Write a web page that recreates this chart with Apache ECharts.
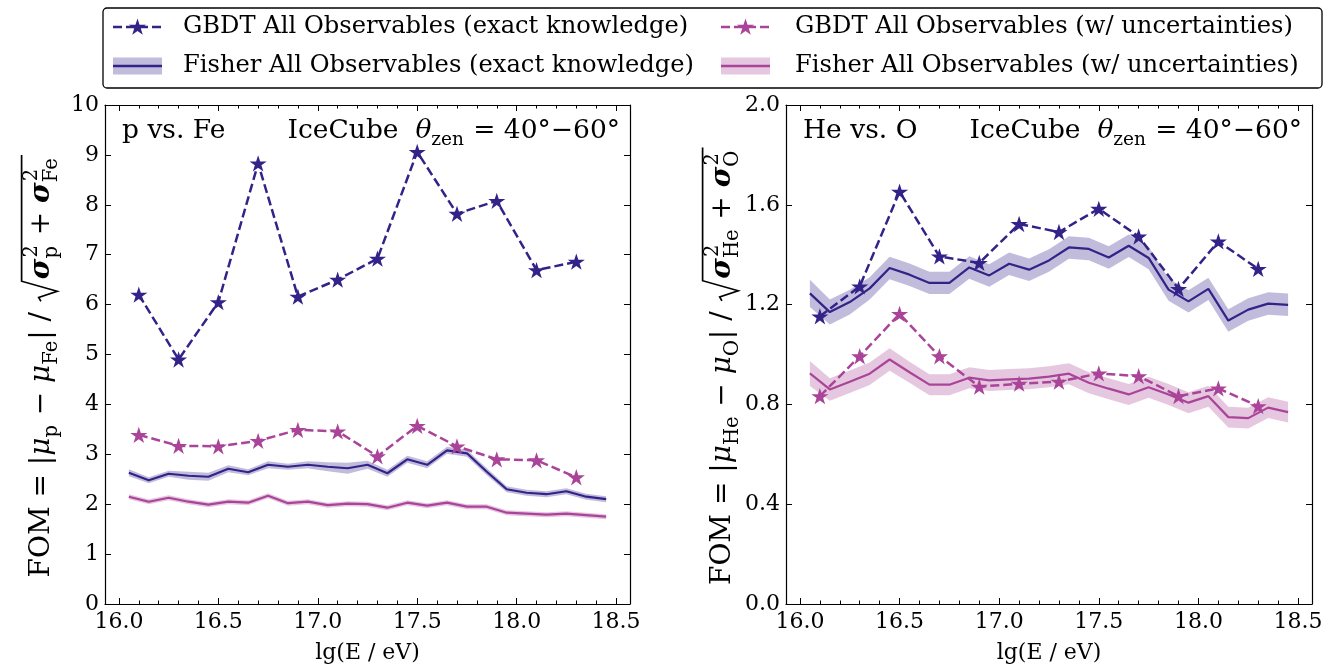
<!DOCTYPE html>
<html>
<head>
<meta charset="utf-8">
<script src="https://cdn.jsdelivr.net/npm/echarts@6/dist/echarts.min.js"></script>
<style>
  html, body { margin: 0; padding: 0; background: #fff; }
  #chart { width: 1343px; height: 669px; }
</style>
</head>
<body>
<div id="chart"></div>
<script>
// ---- energy bins (lg(E/eV)) ----
const lgE_fisher = [16.05, 16.15, 16.25, 16.35, 16.45, 16.55, 16.65, 16.75, 16.85, 16.95, 17.05, 17.15, 17.25,
                    17.35, 17.45, 17.55, 17.65, 17.75, 17.85, 17.95, 18.05, 18.15, 18.25, 18.35, 18.45];
const lgE_gbdt = [16.1, 16.3, 16.5, 16.7, 16.9, 17.1, 17.3, 17.5, 17.7, 17.9, 18.1, 18.3];

// ---- p vs. Fe ----
const pFe_gbdtExact = [6.20, 4.90, 6.05, 8.83, 6.16, 6.50, 6.92, 9.06, 7.82, 8.08, 6.69, 6.86];
const pFe_gbdtUnc   = [3.39, 3.17, 3.16, 3.27, 3.49, 3.46, 2.96, 3.57, 3.16, 2.90, 2.88, 2.54];
const pFe_fisherExact    = [2.63, 2.48, 2.61, 2.57, 2.55, 2.71, 2.64, 2.79, 2.75, 2.79, 2.75, 2.72, 2.79,
                            2.62, 2.90, 2.79, 3.08, 3.02, 2.65, 2.30, 2.23, 2.20, 2.26, 2.15, 2.10];
const pFe_fisherExactErr = [0.07, 0.06, 0.06, 0.08, 0.08, 0.07, 0.06, 0.07, 0.06, 0.07, 0.09, 0.11, 0.08,
                            0.07, 0.07, 0.07, 0.07, 0.07, 0.07, 0.06, 0.06, 0.06, 0.06, 0.06, 0.06];
const pFe_fisherUnc      = [2.15, 2.05, 2.13, 2.05, 1.99, 2.05, 2.03, 2.17, 2.02, 2.05, 1.98, 2.01, 2.00,
                            1.93, 2.03, 1.97, 2.03, 1.95, 1.95, 1.83, 1.81, 1.79, 1.81, 1.78, 1.75];
const pFe_fisherUncErr   = [0.05, 0.05, 0.05, 0.05, 0.05, 0.05, 0.05, 0.05, 0.05, 0.05, 0.05, 0.05, 0.05,
                            0.05, 0.05, 0.05, 0.05, 0.05, 0.05, 0.05, 0.05, 0.05, 0.05, 0.05, 0.05];

// ---- He vs. O ----
const HeO_gbdtExact = [1.153, 1.273, 1.653, 1.393, 1.367, 1.523, 1.491, 1.584, 1.473, 1.263, 1.453, 1.343];
const HeO_gbdtUnc   = [0.833, 0.993, 1.163, 0.993, 0.871, 0.883, 0.891, 0.924, 0.913, 0.833, 0.864, 0.793];
const HeO_fisherExact    = [1.245, 1.170, 1.210, 1.265, 1.347, 1.320, 1.287, 1.287, 1.349, 1.317, 1.364, 1.340, 1.377,
                            1.429, 1.423, 1.389, 1.436, 1.387, 1.260, 1.213, 1.263, 1.136, 1.180, 1.204, 1.199];
const HeO_fisherExactErr = [0.055, 0.050, 0.050, 0.045, 0.045, 0.045, 0.045, 0.045, 0.045, 0.045, 0.045, 0.045, 0.045,
                            0.045, 0.045, 0.045, 0.045, 0.045, 0.045, 0.045, 0.045, 0.045, 0.045, 0.045, 0.045];
const HeO_fisherUnc      = [0.924, 0.860, 0.891, 0.923, 0.980, 0.929, 0.879, 0.879, 0.907, 0.896, 0.900, 0.903, 0.911,
                            0.923, 0.887, 0.863, 0.840, 0.869, 0.840, 0.807, 0.833, 0.749, 0.745, 0.787, 0.769];
const HeO_fisherUncErr   = [0.050, 0.045, 0.045, 0.045, 0.045, 0.042, 0.042, 0.042, 0.042, 0.042, 0.042, 0.042, 0.042,
                            0.042, 0.042, 0.042, 0.042, 0.042, 0.042, 0.042, 0.042, 0.042, 0.042, 0.042, 0.042];

// ---- axis ticks ----
const xMajorTicks = [16.0, 16.5, 17.0, 17.5, 18.0, 18.5];
const xMinorTicks = [16.1, 16.2, 16.3, 16.4, 16.6, 16.7, 16.8, 16.9, 17.1, 17.2, 17.3, 17.4,
                     17.6, 17.7, 17.8, 17.9, 18.1, 18.2, 18.3, 18.4];

const legendLabels = [
  'GBDT All Observables (exact knowledge)',
  'GBDT All Observables (w/ uncertainties)',
  'Fisher All Observables (exact knowledge)',
  'Fisher All Observables (w/ uncertainties)'
];

const C_EXACT = '#332288';
const C_UNC = '#AA4499';
const BAND_EXACT = 'rgba(51,34,136,0.3)';
const BAND_UNC = 'rgba(170,68,153,0.3)';
const FF = '"DejaVu Serif", serif';
const TICK_FS = 22;
const LEG_FS = 24.2;
const ANN_FS = 26.5;
const XLAB_FS = 22;
const YLAB_FS = 28;

// five-pointed star outline (unit radius, inner radius 0.382)
const STAR = [[0, -1], [0.2245, -0.309], [0.9511, -0.309], [0.3633, 0.118], [0.5878, 0.809],
              [0, 0.382], [-0.5878, 0.809], [-0.3633, 0.118], [-0.9511, -0.309], [-0.2245, -0.309]];
const starSymbol = 'path://M' + STAR.map(p => (p[0] * 100).toFixed(2) + ',' + (p[1] * 100).toFixed(2)).join(' L') + ' Z';
const STAR_R = 9;

// ---- small math-text layout helper (baseline at y = 0, starting at x = 0) ----
const mctx = document.createElement('canvas').getContext('2d');
function fontOf(size, it, b) { return (it ? 'italic ' : '') + (b ? 'bold ' : '') + size + 'px ' + FF; }
function textWidth(t, size, it, b) { mctx.font = fontOf(size, it, b); return mctx.measureText(t).width; }

function mathLine(runs, S, color) {
  const els = [];
  let x = 0;
  const put = (t, x0, base, size, it, b) => {
    els.push({
      type: 'text', x: x0, y: base - 0.346 * size, silent: true,
      style: { text: t, font: fontOf(size, it, b), fill: color, align: 'left', verticalAlign: 'middle' }
    });
    return textWidth(t, size, it, b);
  };
  const lay = (list) => {
    for (const r of list) {
      if (r.sqrt) {
        const x0 = x;
        x += 0.85 * S;
        lay(r.sqrt);
        const top = -1.05 * S;
        els.push({
          type: 'polyline', silent: true,
          shape: { points: [[x0 + 0.06 * S, -0.36 * S], [x0 + 0.2 * S, -0.44 * S], [x0 + 0.42 * S, 0.22 * S],
                            [x0 + 0.78 * S, top], [x + 0.08 * S, top]] },
          style: { stroke: color, lineWidth: 1.7, fill: null }
        });
        x += 0.1 * S;
      } else if (r.sup !== undefined || r.sub !== undefined) {
        const s = 0.7 * S;
        let w = 0;
        if (r.sup) w = Math.max(w, put(r.sup, x + 0.04 * S, -0.45 * S, s, false, false) + 0.04 * S);
        if (r.sub) w = Math.max(w, put(r.sub, x, 0.26 * S, s, false, false));
        x += w + 0.03 * S;
      } else {
        x += put(r.t, x, 0, S, r.it, r.b);
      }
    }
  };
  lay(runs);
  return { els, width: x };
}

const yLabelLeft = [
  { t: 'FOM = |' }, { t: 'μ', it: 1 }, { sub: 'p' }, { t: ' − ' }, { t: 'μ', it: 1 }, { sub: 'Fe' }, { t: '| / ' },
  { sqrt: [{ t: 'σ', it: 1, b: 1 }, { sup: '2', sub: 'p' }, { t: ' + ' }, { t: 'σ', it: 1, b: 1 }, { sup: '2', sub: 'Fe' }] }
];
const yLabelRight = [
  { t: 'FOM = |' }, { t: 'μ', it: 1 }, { sub: 'He' }, { t: ' − ' }, { t: 'μ', it: 1 }, { sub: 'O' }, { t: '| / ' },
  { sqrt: [{ t: 'σ', it: 1, b: 1 }, { sup: '2', sub: 'He' }, { t: ' + ' }, { t: 'σ', it: 1, b: 1 }, { sup: '2', sub: 'O' }] }
];
const detectorText = [{ t: 'IceCube  ' }, { t: 'θ', it: 1 }, { sub: 'zen' }, { t: ' = 40°−60°' }];

// ---- layout of the two panels ----
const panels = [
  { left: 105, width: 525, yMax: 10, yInterval: 1, yDigits: 0, title: 'p vs. Fe', ylab: yLabelLeft, ylabX: 51,
    gbdtExact: pFe_gbdtExact, gbdtUnc: pFe_gbdtUnc,
    fExact: pFe_fisherExact, fExactErr: pFe_fisherExactErr, fUnc: pFe_fisherUnc, fUncErr: pFe_fisherUncErr },
  { left: 786, width: 526, yMax: 2, yInterval: 0.4, yDigits: 1, title: 'He vs. O', ylab: yLabelRight, ylabX: 732,
    gbdtExact: HeO_gbdtExact, gbdtUnc: HeO_gbdtUnc,
    fExact: HeO_fisherExact, fExactErr: HeO_fisherExactErr, fUnc: HeO_fisherUnc, fUncErr: HeO_fisherUncErr }
];
const GRID_TOP = 105, GRID_H = 500;
const X_MIN = 15.93, X_MAX = 18.57;

const grids = [], xAxes = [], yAxes = [], series = [], graphics = [];

function xAxisDef(gi, position, ticks, len, showLine, showLabels) {
  return {
    type: 'value', gridIndex: gi, position, min: X_MIN, max: X_MAX,
    axisLine: { show: showLine, onZero: false, lineStyle: { color: '#000', width: 1.2 } },
    axisTick: { show: true, inside: true, length: len, customValues: ticks, lineStyle: { color: '#000', width: 1 } },
    axisLabel: showLabels ? {
      show: true, customValues: ticks, margin: 7, color: '#000', fontFamily: FF, fontSize: TICK_FS,
      formatter: v => v.toFixed(1)
    } : { show: false },
    splitLine: { show: false },
    name: showLabels ? 'lg(E / eV)' : '',
    nameLocation: 'middle', nameGap: 38,
    nameTextStyle: { color: '#000', fontFamily: FF, fontSize: XLAB_FS }
  };
}

function bandSeries(xi, yi, xs, mid, err, fill) {
  return {
    type: 'custom', xAxisIndex: xi, yAxisIndex: yi, silent: true, z: 1,
    data: xs.map((x, i) => [x, mid[i] - err[i], mid[i] + err[i]]),
    encode: { x: 0, y: [1, 2] },
    renderItem: (params, api) => {
      if (params.dataIndex !== 0) return null;
      const upper = xs.map((x, i) => api.coord([x, mid[i] + err[i]]));
      const lower = xs.map((x, i) => api.coord([x, mid[i] - err[i]])).reverse();
      return { type: 'polygon', shape: { points: upper.concat(lower) }, style: { fill, stroke: null } };
    }
  };
}

panels.forEach((p, gi) => {
  grids.push({ left: p.left, top: GRID_TOP, width: p.width, height: GRID_H, containLabel: false });
  const xBase = xAxes.length;
  xAxes.push(xAxisDef(gi, 'bottom', xMajorTicks, 6, true, true));
  xAxes.push(xAxisDef(gi, 'bottom', xMinorTicks, 3.5, false, false));
  xAxes.push(xAxisDef(gi, 'top', xMajorTicks, 6, true, false));
  xAxes.push(xAxisDef(gi, 'top', xMinorTicks, 3.5, false, false));
  const yBase = yAxes.length;
  const yCommon = {
    type: 'value', gridIndex: gi, min: 0, max: p.yMax, interval: p.yInterval,
    axisLine: { show: true, onZero: false, lineStyle: { color: '#000', width: 1.2 } },
    axisTick: { show: true, inside: true, length: 6, lineStyle: { color: '#000', width: 1 } },
    splitLine: { show: false }
  };
  yAxes.push(Object.assign({}, yCommon, {
    position: 'left',
    axisLabel: { show: true, margin: 6, color: '#000', fontFamily: FF, fontSize: TICK_FS,
                 formatter: v => v.toFixed(p.yDigits) }
  }));
  yAxes.push(Object.assign({}, yCommon, { position: 'right', axisLabel: { show: false } }));

  series.push(bandSeries(xBase, yBase, lgE_fisher, p.fExact, p.fExactErr, BAND_EXACT));
  series.push(bandSeries(xBase, yBase, lgE_fisher, p.fUnc, p.fUncErr, BAND_UNC));
  series.push({
    name: legendLabels[2], type: 'line', xAxisIndex: xBase, yAxisIndex: yBase, z: 2,
    data: lgE_fisher.map((x, i) => [x, p.fExact[i]]), showSymbol: false, symbol: 'none',
    lineStyle: { color: C_EXACT, width: 2.2 }
  });
  series.push({
    name: legendLabels[3], type: 'line', xAxisIndex: xBase, yAxisIndex: yBase, z: 2,
    data: lgE_fisher.map((x, i) => [x, p.fUnc[i]]), showSymbol: false, symbol: 'none',
    lineStyle: { color: C_UNC, width: 2.2 }
  });
  series.push({
    name: legendLabels[0], type: 'line', xAxisIndex: xBase, yAxisIndex: yBase, z: 3,
    data: lgE_gbdt.map((x, i) => [x, p.gbdtExact[i]]),
    symbol: starSymbol, symbolSize: [STAR_R * 1.902, STAR_R * 1.809],
    itemStyle: { color: C_EXACT }, lineStyle: { color: C_EXACT, width: 2.5, type: [9, 4] }
  });
  series.push({
    name: legendLabels[1], type: 'line', xAxisIndex: xBase, yAxisIndex: yBase, z: 3,
    data: lgE_gbdt.map((x, i) => [x, p.gbdtUnc[i]]),
    symbol: starSymbol, symbolSize: [STAR_R * 1.902, STAR_R * 1.809],
    itemStyle: { color: C_UNC }, lineStyle: { color: C_UNC, width: 2.5, type: [9, 4] }
  });

  // panel annotations
  graphics.push({
    type: 'text', x: p.left + 17, y: 140 - 0.346 * ANN_FS, silent: true,
    style: { text: p.title, font: fontOf(ANN_FS), fill: '#000', align: 'left', verticalAlign: 'middle' }
  });
  const det = mathLine(detectorText, ANN_FS, '#000');
  graphics.push({ type: 'group', x: p.left + p.width - 10 - det.width, y: 140, children: det.els });

  // rotated y-axis label
  const yl = mathLine(p.ylab, YLAB_FS, '#000');
  graphics.push({
    type: 'group', x: p.ylabX, y: 366 + yl.width / 2, rotation: Math.PI / 2, children: yl.els
  });
});

// ---- legend box ----
function starPoints(cx, cy, r) { return STAR.map(q => [cx + q[0] * r, cy + q[1] * r]); }
const legendEls = [{
  type: 'rect', shape: { x: 103, y: 8, width: 1219, height: 80, r: 4 },
  style: { fill: '#fff', stroke: '#000', lineWidth: 1.3 }
}];
const legItems = [
  { kind: 'gbdt', color: C_EXACT, band: BAND_EXACT, hx: 113, tx: 183, y: 27, label: legendLabels[0] },
  { kind: 'gbdt', color: C_UNC, band: BAND_UNC, hx: 721, tx: 795, y: 27, label: legendLabels[1] },
  { kind: 'fisher', color: C_EXACT, band: BAND_EXACT, hx: 113, tx: 183, y: 66, label: legendLabels[2] },
  { kind: 'fisher', color: C_UNC, band: BAND_UNC, hx: 721, tx: 795, y: 66, label: legendLabels[3] }
];
legItems.forEach(it => {
  const hw = 49;
  if (it.kind === 'gbdt') {
    legendEls.push({ type: 'line', shape: { x1: it.hx, y1: it.y, x2: it.hx + hw, y2: it.y },
      style: { stroke: it.color, lineWidth: 2.5, lineDash: [9, 4] } });
    legendEls.push({ type: 'polygon', shape: { points: starPoints(it.hx + hw / 2, it.y + 0.5, STAR_R) },
      style: { fill: it.color, stroke: null } });
  } else {
    legendEls.push({ type: 'rect', shape: { x: it.hx, y: it.y - 8.5, width: hw, height: 17 },
      style: { fill: it.band, stroke: null } });
    legendEls.push({ type: 'line', shape: { x1: it.hx, y1: it.y, x2: it.hx + hw, y2: it.y },
      style: { stroke: it.color, lineWidth: 2.5 } });
  }
  legendEls.push({ type: 'text', x: it.tx, y: it.y,
    style: { text: it.label, font: fontOf(LEG_FS), fill: '#000', align: 'left', verticalAlign: 'middle' } });
});
graphics.push({ type: 'group', z: 100, silent: true, children: legendEls });

const chart = echarts.init(document.getElementById('chart'), null, { renderer: 'canvas' });
chart.setOption({
  animation: false,
  backgroundColor: '#fff',
  textStyle: { fontFamily: FF },
  grid: grids,
  xAxis: xAxes,
  yAxis: yAxes,
  series: series,
  graphic: { elements: graphics }
});
</script>
</body>
</html>
